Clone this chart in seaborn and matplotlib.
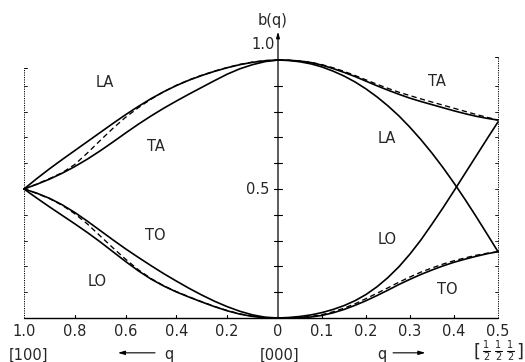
import numpy as np
import pandas as pd
import matplotlib
matplotlib.use("Agg")
import matplotlib.pyplot as plt
from matplotlib.lines import Line2D
import seaborn as sns

sns.set_style("white")
plt.rcParams["font.family"] = ["DejaVu Sans"]

# ---- [100] direction (q from 0 to 1) ----
q_100 = [1.00, 0.95, 0.90, 0.85, 0.80, 0.75, 0.70, 0.65, 0.60, 0.55, 0.50,
         0.45, 0.40, 0.35, 0.30, 0.25, 0.20, 0.15, 0.10, 0.05, 0.00]
la_100 = [0.500, 0.540, 0.578, 0.614, 0.649, 0.684, 0.719, 0.754, 0.788, 0.820, 0.850,
          0.877, 0.901, 0.922, 0.940, 0.956, 0.970, 0.982, 0.991, 0.997, 1.000]
ta_100 = [0.500, 0.518, 0.538, 0.561, 0.587, 0.616, 0.648, 0.682, 0.717, 0.751, 0.783,
          0.813, 0.841, 0.868, 0.894, 0.920, 0.945, 0.966, 0.982, 0.994, 1.000]
ac_dash_100 = [0.500, 0.519, 0.540, 0.563, 0.595, 0.640, 0.688, 0.735, 0.778, 0.815, 0.848,
               0.877, 0.902, 0.923, 0.941, 0.957, 0.971, 0.983, 0.992, 0.998, 1.000]
to_100 = [0.500, 0.484, 0.464, 0.439, 0.409, 0.375, 0.339, 0.303, 0.268, 0.235, 0.203,
          0.172, 0.143, 0.115, 0.089, 0.065, 0.044, 0.026, 0.012, 0.003, 0.000]
lo_100 = [0.500, 0.465, 0.431, 0.398, 0.365, 0.331, 0.295, 0.257, 0.219, 0.183, 0.151,
          0.124, 0.101, 0.081, 0.062, 0.044, 0.028, 0.015, 0.006, 0.001, 0.000]
op_dash_100 = [0.500, 0.483, 0.463, 0.437, 0.404, 0.364, 0.318, 0.272, 0.228, 0.187, 0.153,
               0.125, 0.102, 0.082, 0.063, 0.045, 0.029, 0.016, 0.007, 0.001, 0.000]

# ---- [111] direction (q from 0 to 1/2) ----
q_111 = [0.000, 0.025, 0.050, 0.075, 0.100, 0.125, 0.150, 0.175, 0.200, 0.225, 0.250,
         0.275, 0.300, 0.325, 0.350, 0.375, 0.400, 0.425, 0.450, 0.475, 0.500]
la_111 = [1.000, 0.998, 0.993, 0.985, 0.973, 0.957, 0.938, 0.915, 0.888, 0.857, 0.822,
          0.783, 0.739, 0.691, 0.639, 0.583, 0.523, 0.460, 0.394, 0.326, 0.257]
ta_111 = [1.000, 0.999, 0.996, 0.990, 0.980, 0.967, 0.952, 0.936, 0.918, 0.900, 0.883,
          0.867, 0.852, 0.839, 0.827, 0.815, 0.803, 0.792, 0.782, 0.774, 0.767]
ac_dash_111 = [1.000, 0.999, 0.996, 0.991, 0.982, 0.970, 0.956, 0.940, 0.923, 0.906, 0.890,
               0.875, 0.862, 0.849, 0.837, 0.825, 0.813, 0.801, 0.789, 0.778, 0.767]
lo_111 = [0.000, 0.002, 0.006, 0.012, 0.021, 0.033, 0.048, 0.067, 0.091, 0.121, 0.157,
          0.199, 0.248, 0.303, 0.364, 0.427, 0.493, 0.560, 0.627, 0.694, 0.760]
to_111 = [0.000, 0.000, 0.001, 0.004, 0.010, 0.020, 0.033, 0.049, 0.067, 0.087, 0.108,
          0.130, 0.150, 0.169, 0.186, 0.202, 0.216, 0.228, 0.239, 0.249, 0.257]
op_dash_111 = [0.000, 0.000, 0.002, 0.006, 0.013, 0.024, 0.038, 0.055, 0.075, 0.096, 0.117,
               0.139, 0.159, 0.178, 0.194, 0.209, 0.222, 0.233, 0.243, 0.251, 0.257]

# tick labels along the bottom
ticks_100 = [1.0, 0.8, 0.6, 0.4, 0.2]
ticklabels_100 = ["1.0", "0.8", "0.6", "0.4", "0.2"]
ticks_111 = [0.0, 0.1, 0.2, 0.3, 0.4, 0.5]
ticklabels_111 = ["0", "0.1", "0.2", "0.3", "0.4", "0.5"]

# horizontal scale of the [111] half relative to the [100] half
R = 440 / 254


def u100(q):
    return -np.asarray(q, dtype=float)


def u111(q):
    return np.asarray(q, dtype=float) * R


W, H = 525, 362
fig = plt.figure(figsize=(W / 100, H / 100), dpi=100)
ax = fig.add_axes([24 / W, (H - 318) / H, (498 - 24) / W, 258 / H])
ax.set_xlim(-1.0, 0.5 * R)
ax.set_ylim(0.0, 1.0)
ax.axis("off")

solid = dict(color="black", lw=1.2, estimator=None, sort=False, clip_on=False)
dashed = dict(color="black", lw=0.95, estimator=None, sort=False, clip_on=False,
              linestyle=(0, (4.0, 2.6)))

for ys in (la_100, ta_100, to_100, lo_100):
    sns.lineplot(x=u100(q_100), y=ys, ax=ax, **solid)
for ys in (ac_dash_100, op_dash_100):
    sns.lineplot(x=u100(q_100), y=ys, ax=ax, **dashed)
for ys in (la_111, ta_111, lo_111, to_111):
    sns.lineplot(x=u111(q_111), y=ys, ax=ax, **solid)
for ys in (ac_dash_111, op_dash_111):
    sns.lineplot(x=u111(q_111), y=ys, ax=ax, **dashed)

k = dict(color="black", clip_on=False)
# bottom axis
ax.plot([-1.0, 0.5 * R], [0, 0], lw=1.0, **k)
dy = 3 / 258
for t in ticks_100[1:]:
    ax.plot([-t, -t], [0, dy], lw=0.8, **k)
for t in ticks_111[1:-1]:
    ax.plot([t * R, t * R], [0, dy], lw=0.8, **k)

# central b(q) axis with arrow
ax.annotate("", xy=(0, 1.11), xytext=(0, 0), xycoords="data",
            annotation_clip=False,
            arrowprops=dict(arrowstyle="-|>,head_length=0.35,head_width=0.1",
                            color="black", lw=0.9, shrinkA=0, shrinkB=0))
dx = 4 / 254
for b in np.arange(1, 10) / 10:
    ax.plot([-dx, dx], [b, b], lw=0.8, **k)

# dotted side frames with inward ticks
ax.plot([-1.0, -1.0], [0, 0.97], lw=0.7, ls=(0, (1.2, 1.2)), **k)
ax.plot([-1.0, -1.0 + dx * 0.8], [0.97, 0.97], lw=0.7, **k)
ax.plot([0.5 * R, 0.5 * R], [0, 1.01], lw=0.7, ls=(0, (1.2, 1.2)), **k)
ax.plot([0.5 * R, 0.5 * R - dx * 0.8], [1.01, 1.01], lw=0.7, **k)
for b in np.arange(1, 10) / 10:
    ax.plot([-1.0, -1.0 + dx * 0.7], [b, b], lw=0.6, **k)
    ax.plot([0.5 * R, 0.5 * R - dx * 0.7], [b, b], lw=0.6, **k)

fs = 10.5
tk = dict(ha="center", va="center", fontsize=fs, clip_on=False)
for t, lab in zip(ticks_100, ticklabels_100):
    ax.text(-t, -0.054, lab, **tk)
for t, lab in zip(ticks_111, ticklabels_111):
    ax.text(t * R, -0.054, lab, **tk)

ax.text(-0.984, -0.143, "[100]", **tk)
ax.text(0.008, -0.143, "[000]", **tk)

# zone-boundary point [1/2 1/2 1/2], built from stacked digits (pixel positions)
def fpx(x, y):
    return x / W, 1 - y / H

fig.text(*fpx(477, 352), "[", ha="center", va="center", fontsize=13)
fig.text(*fpx(520, 352), "]", ha="center", va="center", fontsize=13)
for xc in (486, 498, 510):
    fig.text(*fpx(xc, 344.5), "1", ha="center", va="center", fontsize=7)
    fig.text(*fpx(xc, 357.5), "2", ha="center", va="center", fontsize=7)
    x0, y0 = fpx(xc - 3.5, 351.3)
    x1, _ = fpx(xc + 3.5, 351.3)
    fig.add_artist(Line2D([x0, x1], [y0, y0], transform=fig.transFigure,
                          color="black", lw=0.8))

ax.text(-0.43, -0.14, "q", **tk)
ax.text(0.41, -0.14, "q", **tk)
arrow_kw = dict(arrowstyle="-|>,head_length=0.4,head_width=0.12",
                color="black", lw=0.8, shrinkA=0, shrinkB=0)
ax.annotate("", xy=(-0.63, -0.135), xytext=(-0.484, -0.135),
            annotation_clip=False, arrowprops=arrow_kw)
ax.annotate("", xy=(0.58, -0.135), xytext=(0.453, -0.135),
            annotation_clip=False, arrowprops=arrow_kw)

ax.text(-0.02, 1.155, "b(q)", **tk)
ax.text(-0.058, 1.062, "1.0", **tk)
ax.text(-0.079, 0.5, "0.5", **tk)

# branch labels
lb = dict(ha="center", va="center", fontsize=fs, clip_on=False)
ax.text(-0.681, 0.911, "LA", **lb)
ax.text(-0.48, 0.663, "TA", **lb)
ax.text(-0.484, 0.318, "TO", **lb)
ax.text(-0.713, 0.14, "LO", **lb)
ax.text(0.361 * R, 0.915, "TA", **lb)
ax.text(0.248 * R, 0.694, "LA", **lb)
ax.text(0.248 * R, 0.306, "LO", **lb)
ax.text(0.384 * R, 0.112, "TO", **lb)

fig.savefig("out.png", dpi=100)
